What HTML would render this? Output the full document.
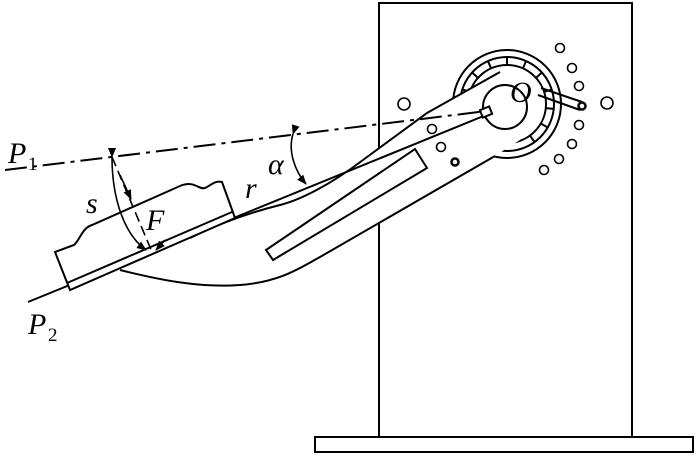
<!DOCTYPE html>
<html><head><meta charset="utf-8"><style>
html,body{margin:0;padding:0;background:#fff;}
svg{display:block}
.t{font-family:"Liberation Serif",serif;font-style:italic;fill:#000;font-size:30px}
.s{font-family:"Liberation Serif",serif;fill:#000;font-size:19px}
</style></head><body>
<svg width="700" height="457" viewBox="0 0 700 457" xmlns="http://www.w3.org/2000/svg">
<defs>
<marker id="ah" markerWidth="10" markerHeight="8" refX="9" refY="4" orient="auto" markerUnits="userSpaceOnUse">
<path d="M0,0 L10,4 L0,8 Z" fill="#000"/></marker>
</defs>
<g fill="none" stroke="#000" stroke-width="2">
<rect x="379" y="3" width="253" height="434"/>
<rect x="315" y="437" width="378" height="15"/>
<circle cx="507" cy="104" r="54"/>
<circle cx="507" cy="104" r="47"/>
<circle cx="507" cy="104" r="39"/>
<g stroke-width="2">
<line x1="507" y1="57" x2="507" y2="65" transform="rotate(0 507 104)"/>
<line x1="507" y1="57" x2="507" y2="65" transform="rotate(24 507 104)"/>
<line x1="507" y1="57" x2="507" y2="65" transform="rotate(48 507 104)"/>
<line x1="507" y1="57" x2="507" y2="65" transform="rotate(72 507 104)"/>
<line x1="507" y1="57" x2="507" y2="65" transform="rotate(96 507 104)"/>
<line x1="507" y1="57" x2="507" y2="65" transform="rotate(120 507 104)"/>
<line x1="507" y1="57" x2="507" y2="65" transform="rotate(144 507 104)"/>
<line x1="507" y1="57" x2="507" y2="65" transform="rotate(-24 507 104)"/>
<line x1="507" y1="57" x2="507" y2="65" transform="rotate(-48 507 104)"/>
<line x1="507" y1="57" x2="507" y2="65" transform="rotate(-72 507 104)"/>
</g>
<path fill="#fff" d="M505,68 L427,113 L363,160 C330,185 300,200 280,205 C240,215 210,228 190,238 L120,270 C160,280 200,288 240,285 C280,282 300,268 320,257 L493,157 L520,140 Z" stroke="none"/>
<path d="M500,72 L427,113 L363,160 C330,185 300,200 280,205 C240,215 210,228 190,238"/>
<path d="M120,270 C160,280 200,288 240,285 C280,282 300,268 320,257 L495,156"/>
<circle cx="505" cy="107" r="22" fill="#fff"/>
<polygon points="266,250 415,149 427,168 273,260" fill="#fff"/>
<line x1="541" y1="88" x2="582" y2="102"/>
<line x1="538" y1="95" x2="580" y2="110"/>
<line x1="5" y1="170" x2="495" y2="110" stroke-dasharray="22,6,4,6"/>
<line x1="28" y1="302" x2="486" y2="115"/>
<rect x="481" y="108" width="10" height="8" transform="rotate(-22 486 112)" fill="#fff"/>
<path fill="#fff" d="M55,252 L70,290 L235,218 L222,182 C215,180 210,186 205,188 C198,190 195,180 180,186 L92,225 C82,228 80,240 74,245 Z"/>
<line x1="67" y1="283" x2="232" y2="212"/>
<path d="M112,157 C112,200 125,235 146,250" marker-start="url(#ah)" marker-end="url(#ah)" stroke-width="1.6"/>
<line x1="112" y1="157" x2="152" y2="252" stroke-dasharray="10,5" stroke-width="1.6"/>
<line x1="120" y1="175" x2="131" y2="199" marker-end="url(#ah)" stroke-width="1.6"/>
<line x1="165" y1="240" x2="156" y2="250" marker-end="url(#ah)" stroke-width="1.6"/>
<path d="M293,134 C288,150 294,170 306,184" marker-start="url(#ah)" marker-end="url(#ah)" stroke-width="1.6"/>
<g stroke-width="1.6">
<circle cx="560" cy="48" r="4.5"/><circle cx="572" cy="68" r="4.5"/><circle cx="579" cy="86" r="4.5"/>
<circle cx="607" cy="103" r="6"/><circle cx="579" cy="125" r="4.5"/><circle cx="572" cy="144" r="4.5"/>
<circle cx="559" cy="159" r="4.5"/><circle cx="544" cy="170" r="4.5"/>
<circle cx="404" cy="104" r="6"/><circle cx="432" cy="129" r="4.5"/><circle cx="441" cy="147" r="4.5"/>
<circle cx="455" cy="162" r="3.5" stroke-width="2.5"/>
<circle cx="582" cy="106" r="3.5" stroke-width="2.5"/>
</g>
</g>
<text x="510" y="102" class="t">O</text>
<text x="8" y="163" class="t">P</text><text x="28" y="170" class="s">1</text>
<text x="28" y="334" class="t">P</text><text x="48" y="341" class="s">2</text>
<text x="86" y="213" class="t">s</text>
<text x="146" y="230" class="t">F</text>
<text x="245" y="198" class="t">r</text>
<text x="268" y="174" class="t">α</text>
</svg>
</body></html>
